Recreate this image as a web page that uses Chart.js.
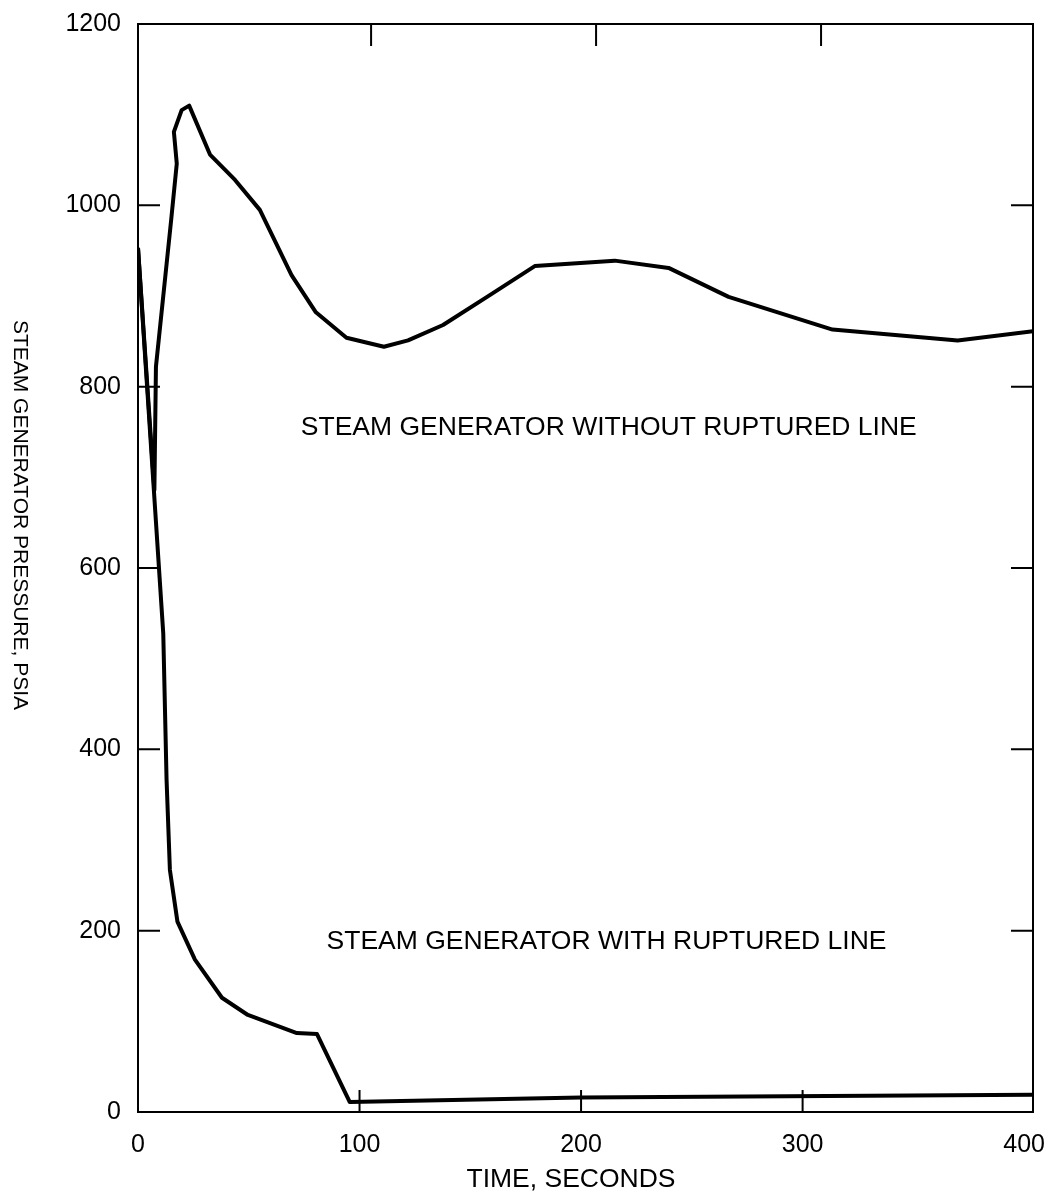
<!DOCTYPE html>
<html>
<head>
<meta charset="utf-8">
<script src="https://cdn.jsdelivr.net/npm/chart.js@4.4.1/dist/chart.umd.min.js"></script>
<style>
  html, body { margin: 0; padding: 0; background: #fff; }
</style>
</head>
<body>
<canvas id="chart" width="1044" height="1197"></canvas>
<script>
// values: time in seconds, pressure in psia
const intactTime = [0, 7.4, 8.1, 15.1, 17.5, 16.2, 19.7, 23.1, 32.5, 43.8, 55, 69.3, 80.3, 94.1, 111, 121.9, 137.7, 158.8, 179.1, 215.2, 239.5, 266.6, 313.5, 370, 404];
const intactPsia = [953, 686, 822, 987, 1046, 1081, 1105, 1110, 1056, 1028, 995, 923, 882, 854, 844, 851, 868, 901, 933, 939, 931, 899, 863, 851, 861];

const rupturedTime = [0, 11.4, 12.9, 14.4, 17.8, 25.7, 37.9, 49.6, 71.7, 80.8, 95.6, 200, 404];
const rupturedPsia = [953, 528, 366, 267, 210, 168, 126, 107, 87, 86, 11, 16, 19];

const xTickValues = [0, 100, 200, 300, 400];
const yTickValues = [0, 200, 400, 600, 800, 1000, 1200];
const innerX = [100, 200, 300];
const innerY = [200, 400, 600, 800, 1000];

const notes = [
  {text: 'STEAM GENERATOR WITHOUT RUPTURED LINE', t: 212.5, p: 755},
  {text: 'STEAM GENERATOR WITH RUPTURED LINE', t: 211.5, p: 188}
];
const xTitle = 'TIME, SECONDS';
const yTitle = 'STEAM GENERATOR PRESSURE, PSIA';

const FONT = '"Liberation Sans", Arial, Helvetica, sans-serif';
Chart.defaults.font.family = FONT;
Chart.defaults.font.size = 25;
Chart.defaults.color = '#000';

function pts(xs, ys){ return xs.map((x,i)=>({x:x, y:ys[i]})); }

// frame, inward ticks, titles and curve labels
const decor = {
  id: 'decor',
  afterDatasetsDraw(chart){
    const {ctx, chartArea: a, scales} = chart;
    ctx.save();
    ctx.strokeStyle = '#000';
    ctx.lineWidth = 2;
    ctx.strokeRect(a.left, a.top, a.right - a.left, a.bottom - a.top);
    ctx.beginPath();
    for(const v of innerX){
      const pb = scales.x.getPixelForValue(v);
      ctx.moveTo(pb, a.bottom); ctx.lineTo(pb, a.bottom - 22);
      const pt = scales.xTop.getPixelForValue(v);
      ctx.moveTo(pt, a.top); ctx.lineTo(pt, a.top + 22);
    }
    for(const v of innerY){
      const py = scales.y.getPixelForValue(v);
      ctx.moveTo(a.left, py); ctx.lineTo(a.left + 22, py);
      ctx.moveTo(a.right, py); ctx.lineTo(a.right - 22, py);
    }
    ctx.stroke();

    ctx.fillStyle = '#000';
    ctx.textAlign = 'center';
    ctx.textBaseline = 'middle';
    ctx.font = '26.5px ' + FONT;
    for(const n of notes){
      ctx.fillText(n.text, scales.x.getPixelForValue(n.t), scales.y.getPixelForValue(n.p));
    }
    ctx.fillText(xTitle, 571, 1180);
    ctx.font = '21px ' + FONT;
    ctx.translate(20, 515);
    ctx.rotate(Math.PI / 2);
    ctx.fillText(yTitle, 0, 0);
    ctx.restore();
  }
};

new Chart(document.getElementById('chart'), {
  type: 'scatter',
  data: {
    datasets: [
      {label: 'without rupture', data: pts(intactTime, intactPsia)},
      {label: 'with rupture', data: pts(rupturedTime, rupturedPsia)}
    ]
  },
  options: {
    responsive: false,
    animation: false,
    devicePixelRatio: 1,
    showLine: true,
    layout: {padding: {top: 24, right: 11, bottom: 0, left: 0}},
    elements: {
      point: {radius: 0, hoverRadius: 0},
      line: {borderColor: '#000', borderWidth: 4, tension: 0, borderJoinStyle: 'round', fill: false}
    },
    plugins: {legend: {display: false}, tooltip: {enabled: false}},
    scales: {
      x: {
        type: 'linear', position: 'bottom', min: 0, max: 404,
        grid: {display: false}, border: {display: false},
        afterBuildTicks: s => { s.ticks = xTickValues.map(v=>({value:v})); },
        afterFit: s => { s.height = 85; s.paddingLeft = 0; s.paddingRight = 0; },
        ticks: {padding: 10, maxRotation: 0, callback: v => String(v)}
      },
      xTop: {
        type: 'linear', position: 'top', min: -3.6, max: 394.2, display: false
      },
      y: {
        type: 'linear', position: 'left', min: 0, max: 1200,
        grid: {display: false}, border: {display: false},
        afterBuildTicks: s => { s.ticks = yTickValues.map(v=>({value:v})); },
        afterFit: s => { s.width = 138; s.paddingTop = 0; s.paddingBottom = 0; },
        ticks: {padding: 9, callback: v => String(v)}
      }
    }
  },
  plugins: [decor]
});
</script>
</body>
</html>
